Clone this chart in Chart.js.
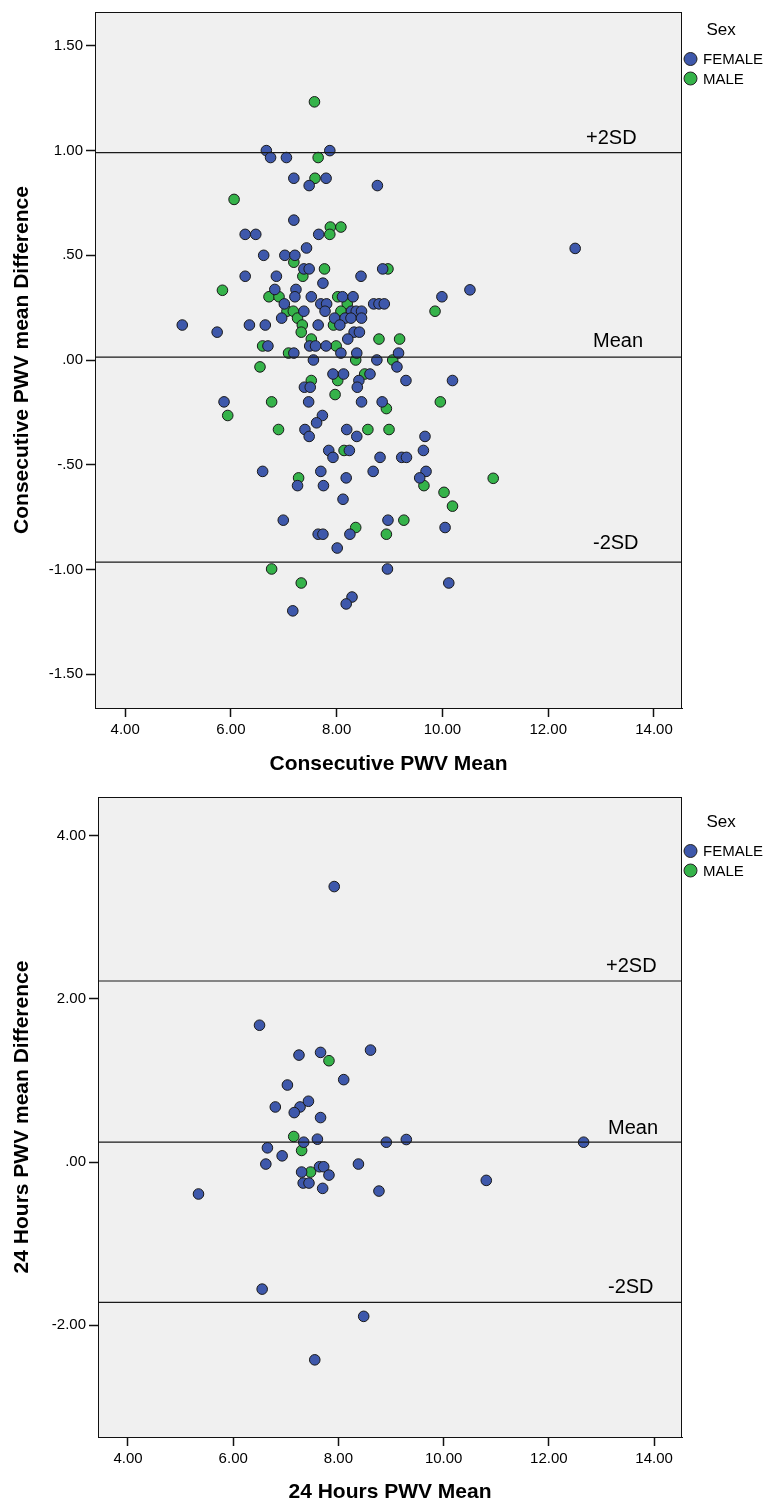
<!DOCTYPE html>
<html><head><meta charset="utf-8">
<script src="https://cdn.jsdelivr.net/npm/chart.js@4.4.0/dist/chart.umd.min.js"></script>
<style>
html,body{margin:0;padding:0;background:#fff;}
#w1{position:absolute;left:0;top:0;width:767px;height:785px;}
#w2{position:absolute;left:0;top:785px;width:767px;height:720px;}
canvas{display:block;}
</style></head><body>
<div id="w1"><canvas id="c1" width="767" height="785"></canvas></div>
<div id="w2"><canvas id="c2" width="767" height="720"></canvas></div>
<script>
// ---------- DATA ----------
const seriesNames = ['FEMALE', 'MALE'];
const refLineNames = ['+2SD', 'Mean', '-2SD'];

// Chart 1: Consecutive PWV
const consecRefValues = [0.99, 0.014, -0.965];
const consecXTicks = [4, 6, 8, 10, 12, 14];
const consecXTickLabels = ['4.00', '6.00', '8.00', '10.00', '12.00', '14.00'];
const consecYTicks = [1.5, 1.0, 0.5, 0, -0.5, -1.0, -1.5];
const consecYTickLabels = ['1.50', '1.00', '.50', '.00', '-.50', '-1.00', '-1.50'];

const consecFemaleX = [6.67,6.75,7.05,7.87,7.19,7.80,7.48,8.77,7.19,6.27,6.47,7.66,7.43,6.62,7.02,7.21,7.38,7.48,8.87,6.27,6.86,8.46,7.74,
  6.83,7.23,7.21,7.52,8.11,8.31,9.99,10.52,12.51,7.01,7.70,7.81,8.70,8.80,8.90,7.38,7.78,8.28,8.37,8.47,6.96,7.96,8.16,8.27,8.47,
  5.08,6.35,6.65,7.65,8.06,5.74,8.33,8.43,8.21,6.70,7.49,7.60,7.80,7.19,8.08,8.38,9.17,7.56,8.76,9.14,7.93,8.13,8.63,7.39,7.50,
  8.42,8.39,9.31,10.19,5.87,7.47,8.47,8.86,7.73,7.62,7.40,7.48,8.19,8.38,9.67,7.85,7.93,8.24,8.82,9.23,9.32,9.64,
  6.60,7.70,8.69,9.69,9.57,7.26,7.75,8.18,8.12,6.99,7.65,7.74,8.25,8.97,8.01,8.96,8.29,8.18,7.17,10.05,10.12];
const consecFemaleY = [1.00,0.967,0.967,1.00,0.868,0.868,0.833,0.833,0.668,0.60,0.60,0.60,0.535,0.50,0.50,0.50,0.435,0.435,0.435,0.40,0.40,0.40,0.367,
  0.337,0.337,0.302,0.302,0.302,0.302,0.302,0.335,0.533,0.268,0.268,0.268,0.268,0.268,0.268,0.233,0.233,0.233,0.233,0.233,0.20,0.20,0.20,0.20,0.20,
  0.167,0.167,0.167,0.167,0.167,0.133,0.133,0.133,0.10,0.067,0.067,0.067,0.067,0.033,0.033,0.033,0.033,0.00,0.00,-0.033,-0.067,-0.067,-0.067,-0.13,-0.13,
  -0.098,-0.13,-0.098,-0.098,-0.20,-0.20,-0.20,-0.20,-0.265,-0.30,-0.332,-0.365,-0.332,-0.365,-0.365,-0.432,-0.465,-0.432,-0.465,-0.465,-0.465,-0.432,
  -0.532,-0.532,-0.532,-0.532,-0.563,-0.60,-0.60,-0.563,-0.665,-0.765,-0.832,-0.832,-0.832,-0.765,-0.898,-0.998,-1.132,-1.165,-1.198,-0.80,-1.065];
const consecMaleX = [7.58,7.65,7.59,6.06,7.88,8.08,7.87,7.19,7.77,8.97,7.36,5.84,6.72,6.91,8.02,8.20,9.86,7.06,7.18,8.08,7.26,7.35,7.94,7.33,
  7.52,8.80,9.19,6.60,7.99,7.09,8.36,9.06,6.55,8.53,7.52,8.02,6.77,7.97,9.96,8.94,5.94,6.90,8.59,8.99,8.14,7.28,9.65,10.96,10.03,10.19,
  8.36,9.27,8.94,6.77,7.33];
const consecMaleY = [1.233,0.967,0.868,0.767,0.635,0.635,0.60,0.467,0.435,0.435,0.40,0.333,0.302,0.302,0.302,0.268,0.233,0.233,0.233,0.233,0.20,0.167,0.167,0.133,
  0.10,0.10,0.10,0.067,0.067,0.033,0.00,0.00,-0.033,-0.067,-0.098,-0.098,-0.20,-0.165,-0.20,-0.232,-0.265,-0.332,-0.332,-0.332,-0.432,-0.563,-0.60,-0.565,-0.632,-0.698,
  -0.80,-0.765,-0.832,-0.998,-1.065];

// Chart 2: 24 Hours PWV
const hoursRefValues = [2.22, 0.244, -1.72];
const hoursXTicks = [4, 6, 8, 10, 12, 14];
const hoursXTickLabels = ['4.00', '6.00', '8.00', '10.00', '12.00', '14.00'];
const hoursYTicks = [4, 2, 0, -2];
const hoursYTickLabels = ['4.00', '2.00', '.00', '-2.00'];

const hoursFemaleX = [7.92,6.50,7.25,7.66,8.61,8.10,7.03,6.80,7.27,7.43,7.16,7.66,7.34,7.60,8.91,9.29,6.65,6.93,6.62,7.30,7.64,7.72,7.82,7.33,7.44,7.70,
  8.38,8.77,5.34,6.55,8.48,7.55,12.66,10.81];
const hoursFemaleY = [3.378,1.678,1.312,1.345,1.373,1.011,0.945,0.676,0.676,0.746,0.607,0.546,0.244,0.281,0.244,0.277,0.175,0.077,-0.024,-0.122,-0.057,-0.057,-0.159,-0.257,-0.257,-0.322,
  -0.024,-0.355,-0.391,-1.557,-1.891,-2.424,0.244,-0.224];
const hoursMaleX = [7.82,7.15,7.30,7.47];
const hoursMaleY = [1.243,0.314,0.143,-0.122];

// ---------- STYLE ----------
const FONT = "'Liberation Sans', Arial, sans-serif";
const colors = ['#3E58AB', '#35B34A'];

function pts(xs, ys) { return xs.map((x, i) => ({x: x, y: ys[i]})); }

const framePlugin = {
  id: 'frame',
  beforeDraw(chart) {
    const a = chart.chartArea, ctx = chart.ctx;
    ctx.save();
    ctx.fillStyle = '#F0F0F0';
    ctx.fillRect(a.left, a.top, a.right - a.left, a.bottom - a.top);
    ctx.restore();
  },
  afterDraw(chart) {
    const a = chart.chartArea, ctx = chart.ctx, o = chart.options.plugins.frame;
    ctx.save();
    ctx.strokeStyle = '#111';
    ctx.lineWidth = 1;
    ctx.strokeRect(Math.round(a.left) + 0.5, Math.round(a.top) + 0.5, Math.round(a.right - a.left) - 1, Math.round(a.bottom - a.top));
    // reference line labels
    const ys = chart.scales.y;
    ctx.fillStyle = '#000';
    ctx.font = '20px ' + FONT;
    ctx.textBaseline = 'middle';
    ctx.textAlign = 'left';
    o.refValues.forEach((v, i) => {
      ctx.fillText(refLineNames[i], o.labelX[i], ys.getPixelForValue(v) - o.labelDy[i]);
    });
    // legend
    ctx.font = '17px ' + FONT;
    ctx.fillText('Sex', o.legX + 16, o.legY);
    ctx.font = '15px ' + FONT;
    seriesNames.forEach((n, i) => {
      const cy = o.legY + 28.5 + i * 19.5;
      ctx.beginPath();
      ctx.arc(o.legX, cy, 6.5, 0, Math.PI * 2);
      ctx.fillStyle = colors[i];
      ctx.fill();
      ctx.strokeStyle = '#222';
      ctx.stroke();
      ctx.fillStyle = '#000';
      ctx.fillText(n, o.legX + 12.5, cy + 1);
    });
    ctx.restore();
  }
};

function makeChart(canvasId, cfg) {
  const xMin = 3.43, xMax = 14.53;
  const lineSets = cfg.refValues.map((v) => ({
    type: 'line',
    data: [{x: xMin, y: v}, {x: xMax, y: v}],
    borderColor: '#1a1a1a', borderWidth: 1.2, pointRadius: 0, fill: false
  }));
  const scatterSets = cfg.series.map((s, i) => ({
    type: 'scatter',
    label: seriesNames[i],
    data: s,
    backgroundColor: colors[i],
    borderColor: '#1a1a1a',
    borderWidth: 1,
    pointRadius: 5.3
  }));
  return new Chart(document.getElementById(canvasId), {
    type: 'scatter',
    data: { datasets: lineSets.concat(scatterSets) },
    plugins: [framePlugin],
    options: {
      responsive: false, animation: false, events: [], devicePixelRatio: 1,
      layout: { padding: cfg.padding },
      plugins: {
        legend: { display: false }, tooltip: { enabled: false },
        frame: { refValues: cfg.refValues, labelX: cfg.labelX, labelDy: cfg.labelDy, legX: cfg.legX, legY: cfg.legY }
      },
      scales: {
        x: {
          type: 'linear', min: xMin, max: xMax,
          afterBuildTicks: (s) => { s.ticks = cfg.xTicks.map(v => ({value: v})); },
          afterFit: (s) => { s.height = cfg.xAxisH; },
          ticks: { callback: (v, i) => cfg.xTickLabels[i], color: '#000', font: { family: FONT, size: 15 }, padding: 4, maxRotation: 0, autoSkip: false },
          grid: { display: true, drawOnChartArea: false, drawTicks: true, tickLength: 9, color: '#111', tickWidth: 1.5 },
          border: { display: true, color: '#111', width: 1 },
          title: { display: true, text: cfg.xTitle, color: '#000', font: { family: FONT, size: 21, weight: 'bold' }, padding: { top: 0, bottom: cfg.xTitlePadB } }
        },
        y: {
          type: 'linear', min: cfg.yMin, max: cfg.yMax,
          afterBuildTicks: (s) => { s.ticks = cfg.yTicks.map(v => ({value: v})); },
          afterFit: (s) => { s.width = cfg.yAxisW; },
          ticks: { callback: (v, i) => cfg.yTickLabels[i], color: '#000', font: { family: FONT, size: 15 }, padding: 3, autoSkip: false },
          grid: { display: true, drawOnChartArea: false, drawTicks: true, tickLength: 9, color: '#111', tickWidth: 1.5 },
          border: { display: true, color: '#111', width: 1 },
          title: { display: true, text: cfg.yTitle, color: '#000', font: { family: FONT, size: 21, weight: 'bold' }, padding: { top: cfg.yTitlePadT, bottom: 0 } }
        }
      }
    }
  });
}

makeChart('c1', {
  series: [pts(consecFemaleX, consecFemaleY), pts(consecMaleX, consecMaleY)],
  refValues: consecRefValues,
  xTicks: consecXTicks, xTickLabels: consecXTickLabels,
  yTicks: consecYTicks, yTickLabels: consecYTickLabels,
  yMin: -1.662, yMax: 1.662,
  xTitle: 'Consecutive PWV Mean', yTitle: 'Consecutive PWV mean Difference',
  padding: { top: 10, right: 85, left: 0, bottom: 0 },
  xAxisH: 77, yAxisW: 95, xTitlePadB: 8, yTitlePadT: 10,
  labelX: [586, 593, 593], labelDy: [14, 16, 19], legX: 690.5, legY: 30.5
});

makeChart('c2', {
  series: [pts(hoursFemaleX, hoursFemaleY), pts(hoursMaleX, hoursMaleY)],
  refValues: hoursRefValues,
  xTicks: hoursXTicks, xTickLabels: hoursXTickLabels,
  yTicks: hoursYTicks, yTickLabels: hoursYTickLabels,
  yMin: -3.37, yMax: 4.476,
  xTitle: '24 Hours PWV Mean', yTitle: '24 Hours PWV mean Difference',
  padding: { top: 10, right: 85, left: 0, bottom: 0 },
  xAxisH: 68, yAxisW: 98, xTitlePadB: 0, yTitlePadT: 10,
  labelX: [606, 608, 608], labelDy: [15, 14, 15], legX: 690.5, legY: 37.5
});
</script>
</body></html>
